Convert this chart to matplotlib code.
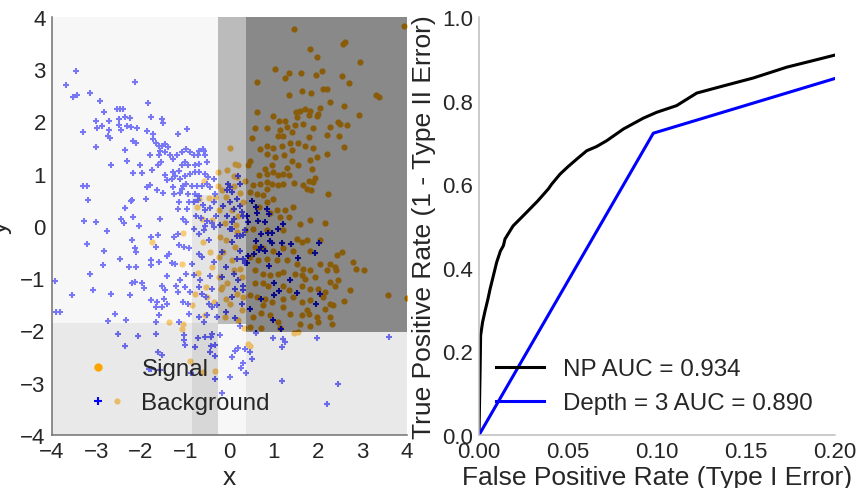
import numpy as np
import matplotlib
matplotlib.use("Agg")
import matplotlib.pyplot as plt
from matplotlib.lines import Line2D

plt.rcParams['font.family'] = ['Liberation Sans', 'DejaVu Sans']
for key in ['text.color', 'axes.labelcolor', 'xtick.color', 'ytick.color']:
    plt.rcParams[key] = '#262626'

# signal sample (x, y)
signal_pts = [
    (1.46, 3.77), (3.93, 3.83), (2.55, 3.49), (2.61, 3.53), (1.81, 3.38), (1.97, 3.24), (2.93, 3.13),
    (1.03, 3.00), (1.33, 2.92), (1.26, 2.84), (1.60, 2.92), (1.94, 2.89), (2.08, 2.97), (2.54, 2.87),
    (0.63, 2.76), (2.70, 2.74), (1.64, 2.59), (1.84, 2.55), (2.10, 2.62), (2.20, 2.62), (1.33, 2.51),
    (3.30, 2.50), (3.36, 2.46), (2.27, 2.37), (2.03, 2.26), (2.58, 2.30), (0.61, 2.19), (0.98, 2.10),
    (1.49, 2.19), (1.59, 2.21), (1.70, 2.23), (1.82, 2.21), (1.51, 2.09), (1.78, 2.12), (1.99, 2.14),
    (1.98, 2.10), (2.92, 2.13), (1.12, 2.01), (1.26, 2.01), (2.45, 1.99),
    (0.57, 1.88), (0.84, 1.88), (1.14, 1.83), (1.29, 1.89), (1.48, 1.93), (1.65, 1.96), (1.89, 1.88),
    (2.26, 1.89), (2.49, 1.96), (2.64, 1.93), (0.50, 1.68), (1.10, 1.73), (1.21, 1.73), (1.40, 1.79),
    (1.78, 1.70), (2.20, 1.75), (2.46, 1.73), (0.69, 1.48), (0.85, 1.54), (0.99, 1.49), (1.18, 1.54),
    (1.36, 1.58), (1.55, 1.59), (1.70, 1.54), (1.87, 1.50), (2.59, 1.52), (0.85, 1.38), (1.02, 1.32),
    (1.23, 1.35), (1.40, 1.45), (1.98, 1.33), (2.19, 1.38), (0.46, 1.24), (0.42, 1.16), (0.80, 1.10),
    (0.95, 1.16), (1.40, 1.24), (1.55, 1.17), (1.81, 1.26), (1.85, 1.10), (1.29, 1.11), (0.67, 0.97),
    (0.84, 1.00), (0.99, 1.03), (1.10, 0.97), (1.21, 1.00), (1.33, 0.97), (1.78, 0.87), (1.93, 0.91),
    (1.87, 0.85), (0.54, 0.78), (0.69, 0.81), (0.84, 0.84), (0.95, 0.81), (1.10, 0.78), (1.21, 0.81),
    (1.45, 0.82), (1.66, 0.78), (1.74, 0.71), (1.83, 0.68), (2.23, 0.62), (0.46, 0.65), (0.61, 0.62),
    (0.76, 0.59), (0.84, 0.71), (0.99, 0.52), (0.84, 0.46), (0.67, 0.36), (1.06, 0.30), (1.25, 0.30),
    (1.44, 0.36), (1.33, 0.17), (1.14, 0.17), (0.91, 0.24), (1.59, 0.03), (1.81, 0.11), (2.15, 0.05),
    (0.00, 1.49), (-0.06, 1.08), (0.12, 1.18), (0.18, 1.16), (-0.25, 1.03), (-0.57, 0.87), (0.09, 0.96),
    (0.16, 0.93), (0.35, 0.87), (-0.25, 0.77), (-0.17, 0.68), (0.09, 0.77), (0.24, 0.64),
    (-0.69, 0.52), (-0.47, 0.54), (-0.32, 0.55), (-0.09, 0.55), (-0.73, 0.36), (-0.62, 0.14),
    (-0.39, 0.11), (-0.24, 0.30), (0.05, 0.30), (0.20, 0.20), (0.30, 0.45), (-0.10, 0.05), (0.15, 0.02),
    (-1.05, -0.13), (-1.75, -0.31), (-1.08, -0.72), (-1.36, -1.84), (-1.05, -1.88), (-0.84, -1.52),
    (-0.77, -1.30), (-0.54, -1.17), (-0.51, -1.36), (-0.39, -0.78), (-0.24, -0.98), (-0.17, -1.17),
    (-0.09, -1.39), (-0.24, -0.59), (-0.21, -0.21), (-0.09, -0.27), (0.05, -0.66), (0.09, -0.85),
    (0.24, -0.82), (0.27, -0.98), (0.16, -1.30), (0.31, -1.36), (0.27, -1.61), (0.12, -0.40),
    (-0.15, -0.50), (-0.05, -1.10), (0.00, -1.50), (-0.20, -1.20), (0.20, -1.80), (-0.10, -1.75),
    (0.33, -1.95), (-0.60, -0.30), (-0.45, -0.50), (-0.70, -0.90), (-0.35, -1.45), (-0.55, -1.70),
    (0.16, -0.12), (0.35, -0.08), (0.54, -0.05), (0.84, -0.07), (1.21, -0.08), (1.51, -0.24),
    (1.63, -0.31), (1.74, -0.27), (2.04, -0.27), (0.57, -0.40), (0.76, -0.43), (0.99, -0.47),
    (1.21, -0.43), (1.44, -0.47), (1.81, -0.47), (2.43, -0.56), (2.53, -0.50), (2.27, -0.72),
    (2.40, -0.84), (2.38, -0.78), (2.78, -0.69), (2.85, -0.82), (3.02, -0.84), (2.19, -0.85),
    (2.04, -0.72), (0.46, -0.59), (0.65, -0.66), (0.84, -0.63), (1.06, -0.66), (1.29, -0.66),
    (1.51, -0.72), (1.66, -0.82), (1.81, -0.85), (0.57, -0.85), (0.76, -0.91), (0.91, -0.94),
    (1.10, -0.91), (1.21, -0.88), (1.48, -0.91), (1.63, -0.94), (1.70, -1.01), (1.93, -0.98),
    (2.27, -1.07), (2.45, -1.04), (2.38, -1.14), (2.72, -1.22), (2.59, -1.44), (3.57, -1.33),
    (3.99, -1.37), (0.57, -1.10), (0.76, -1.10), (0.87, -1.14), (1.21, -1.14), (1.33, -1.23),
    (1.63, -1.14), (1.81, -1.20), (2.00, -1.20), (2.15, -1.26), (0.46, -1.33), (0.61, -1.36),
    (0.80, -1.39), (0.95, -1.45), (1.21, -1.39), (1.44, -1.36), (1.63, -1.45), (1.81, -1.42),
    (2.11, -1.36), (2.27, -1.49), (0.76, -1.52), (1.21, -1.55), (1.74, -1.61), (2.15, -1.58),
    (2.34, -1.52), (0.54, -1.74), (0.72, -1.66), (0.91, -1.71), (1.36, -1.69), (1.63, -1.71),
    (1.78, -1.69), (1.96, -1.75), (2.27, -1.74), (1.10, -1.84), (1.59, -1.87), (1.81, -1.92),
    (2.00, -1.84), (2.30, -1.87), (0.46, -1.93), (0.72, -1.96), (1.14, -1.95),
    (-0.90, -2.58), (-0.60, -2.80), (-0.32, -2.78), (0.42, -2.25), (0.45, -2.29), (1.45, -2.04),
    (1.55, -2.03), (-1.08, -1.98), (-2.54, -3.34),
]

# background sample (x, y)
background_pts = [
    (-3.46, 2.97), (-3.68, 2.69), (-2.14, 2.75), (-3.53, 2.47), (-3.44, 2.51), (-3.14, 2.55),
    (-2.93, 2.39), (-1.84, 2.35), (-2.83, 2.19), (-2.54, 2.23), (-2.47, 2.23), (-2.40, 2.23),
    (-1.78, 2.08), (-1.52, 2.04), (-2.49, 2.04), (-2.35, 2.08), (-2.24, 2.07), (-2.71, 2.01),
    (-3.02, 2.01), (-3.31, 1.79), (-3.02, 1.51), (-2.68, 1.16), (-2.98, 1.87), (-2.87, 1.92),
    (-2.71, 1.83), (-2.75, 1.73), (-2.69, 1.68), (-2.50, 1.94), (-2.44, 1.83), (-2.32, 1.92),
    (-2.23, 1.89), (-2.08, 1.88), (-2.17, 1.63), (-2.11, 1.59), (-2.36, 1.46), (-1.87, 1.82),
    (-1.72, 1.76), (-1.72, 1.67), (-1.49, 1.98), (-1.66, 1.58), (-1.58, 1.54), (-2.32, 1.25),
    (-2.18, 1.02), (-1.98, 1.02), (-2.02, 1.17), (-1.75, 1.08), (-1.79, 1.35), (-1.61, 1.16),
    (-1.54, 1.22), (-1.45, 0.98), (-1.42, 0.88), (-1.27, 1.03), (-1.16, 1.76), (-0.96, 1.86),
    (-3.31, 0.76), (-3.22, 0.76), (-3.19, 0.49), (-1.85, 0.74), (-1.79, 0.79), (-1.88, 0.52),
    (-2.23, 0.48), (-2.20, 0.50), (-1.64, 0.68), (-1.49, 0.64), (-1.27, 0.74), (-1.12, 0.64),
    (-1.04, 0.77), (-1.53, 1.54), (-1.45, 1.57), (-1.38, 1.51), (-1.57, 1.44), (-1.60, 1.35),
    (-1.45, 1.41), (-1.34, 1.35), (-1.27, 1.28), (-1.19, 1.36), (-1.08, 1.41), (-0.97, 1.47),
    (-0.89, 1.41), (-0.81, 1.35), (-0.70, 1.35), (-0.68, 1.44), (-0.59, 1.47), (-0.55, 1.35),
    (-0.51, 1.22), (-0.68, 1.19), (-0.78, 1.16), (-0.93, 1.16), (-1.00, 1.22), (-1.08, 1.16),
    (-1.15, 1.06), (-1.23, 0.96), (-1.30, 0.90), (-1.12, 0.90), (-1.00, 0.96), (-0.89, 1.00),
    (-0.78, 1.03), (-0.68, 1.03), (-0.55, 1.00), (-0.48, 0.93), (-0.36, 0.90), (-0.97, 0.80),
    (-0.85, 0.77), (-0.74, 0.77), (-0.63, 0.77), (-0.51, 0.80), (-0.44, 0.74), (-1.08, 0.71),
    (-0.93, 0.61), (-0.78, 0.61), (-0.68, 0.58), (-0.33, 0.61), (-0.57, 1.44),
    (-3.28, 0.10), (-3.01, 0.08), (-2.35, 0.34), (-2.17, 0.18), (-2.44, 0.13), (-2.38, 0.05),
    (-2.03, 0.00), (-1.57, 0.13), (-1.26, 0.62), (-1.15, 0.46), (-1.16, 0.32), (-0.96, 0.32),
    (-0.92, 0.46), (-1.05, 0.14), (-0.99, 0.08),
    (-2.76, -0.10), (-3.21, -0.34), (-2.84, -0.48), (-2.20, -0.26), (-2.14, -0.43), (-2.11, -0.50),
    (-2.46, -0.64), (-2.85, -0.75), (-3.14, -0.91), (-3.94, -1.05), (-3.08, -1.23), (-3.56, -1.33),
    (-2.66, -1.31), (-2.24, -1.33), (-3.92, -1.65), (-3.83, -1.65), (-2.57, -1.69), (-2.74, -1.82),
    (-2.33, -1.79), (-2.26, -0.78), (-2.11, -0.78), (-1.76, -0.66), (-1.60, -0.68), (-1.76, -0.74),
    (-2.20, -1.10), (-2.12, -1.07), (-1.97, -1.10), (-1.93, -1.18), (-1.76, -0.21), (-1.61, -0.18),
    (-1.66, -0.40), (-1.41, -0.58), (-1.36, -0.54), (-1.30, -0.71), (-1.22, -0.73), (-1.41, -0.96),
    (-1.52, -1.15), (-1.45, -1.22), (-1.78, -1.42), (-1.63, -1.45), (-1.48, -1.39), (-1.66, -1.55),
    (-1.52, -1.55), (-1.41, -1.49), (-1.58, -1.71), (-1.66, -1.84), (-1.26, -0.21), (-1.16, -0.16),
    (-1.13, -0.37), (-1.03, -0.40), (-0.92, -0.43), (-1.11, -1.04), (-0.99, -0.91), (-1.01, -1.17),
    (-1.21, -1.14), (-1.16, -1.26), (-1.05, -1.45), (-0.93, -1.49), (-0.92, -1.69), (-1.15, -1.84),
    (-0.84, -0.72), (-0.81, -0.94), (-0.88, -1.26), (-0.69, -0.53), (-0.62, -0.59), (-0.66, -1.04),
    (-0.69, -1.17), (-0.62, -1.30), (-0.54, -1.36), (-0.47, -1.49), (-0.39, -1.55), (-0.51, -1.71),
    (-0.69, -1.74), (-0.58, -1.84), (-0.69, -0.15), (-0.58, -0.08), (-0.47, -0.27), (-0.36, -0.69),
    (-0.17, -0.50), (-0.09, -0.78), (-0.17, -0.98), (-0.28, -1.52), (-0.09, -1.65), (-0.28, -1.74),
    (-0.80, 0.45), (-0.70, 0.50), (-0.60, 0.40), (-0.55, 0.30), (-0.45, 0.35), (-0.35, 0.45),
    (-0.75, 0.20), (-0.65, 0.15), (-0.50, 0.10), (-0.40, 0.05), (-0.30, 0.20), (-0.80, -0.05),
    (-0.55, 0.00), (-0.35, -0.02), (-0.45, -0.95), (-0.40, -1.20),
    (-0.03, 0.80), (0.01, 0.74), (-0.06, 0.68), (0.05, 0.65), (0.20, 0.96), (0.24, 0.80),
    (0.16, 0.52), (0.01, 0.45), (-0.14, 0.39), (0.09, 0.33), (0.24, 0.39), (0.31, 0.20),
    (0.09, 0.13), (-0.06, 0.20), (-0.21, 0.01), (0.01, -0.06), (0.28, 0.27), (0.05, 0.08),
    (0.50, 0.47), (0.60, 0.36), (0.84, 0.33), (0.90, 0.22), (0.61, 0.24), (0.39, 0.20),
    (0.42, 0.08), (0.65, 0.09), (0.80, 0.08), (1.21, 0.04),
    (0.72, -0.16), (0.87, -0.13), (0.95, -0.13), (1.10, -0.05), (0.60, -0.29), (0.70, -0.40),
    (0.67, -0.45), (0.80, -0.48), (0.91, -0.29), (0.95, -0.33), (1.18, -0.33), (1.38, -0.35),
    (2.02, -0.33), (1.93, -0.52), (1.12, -0.53), (0.55, -0.53), (0.42, -0.58), (0.39, -0.71),
    (1.54, -0.61), (0.90, -0.77), (1.36, -1.04), (1.00, -1.09), (1.11, -1.24), (1.00, -1.33),
    (1.53, -1.29), (2.04, -1.31), (0.71, -1.40), (1.95, -1.49), (0.46, -1.58), (0.99, -1.79),
    (1.15, -1.97),
    (0.05, -0.05), (0.16, -0.20), (0.24, -0.20), (0.31, -0.18), (0.35, -0.08), (0.05, -0.31),
    (0.24, -0.47), (0.31, -0.63), (0.35, -0.71), (0.16, -0.63), (0.09, -0.91), (0.20, -1.04),
    (0.12, -1.20), (0.31, -1.23), (0.27, -1.49), (0.12, -1.77), (0.24, -1.91), (0.05, -1.36),
    (0.31, -1.14),
    (-2.51, -2.06), (-2.36, -2.30), (-2.06, -2.11), (-1.66, -2.06), (-1.61, -2.41), (-1.52, -2.46),
    (-1.82, -2.73), (-1.76, -2.73), (-1.56, -2.76), (-1.03, -2.09), (-1.03, -2.19), (-1.01, -2.27),
    (-0.77, -2.32), (-0.71, -2.14), (-0.56, -2.12), (-0.41, -2.13), (-0.39, -2.06), (-0.21, -2.08),
    (-0.41, -2.30), (-0.32, -2.27), (-0.44, -2.42), (-0.33, -2.48), (-0.86, -2.81), (-0.33, -2.92),
    (-0.17, -3.20), (0.01, -2.89), (0.60, -2.05), (0.97, -2.14), (1.20, -2.17), (1.25, -2.22),
    (1.18, -2.32), (1.96, -2.14), (3.59, -2.12), (0.20, -2.33), (0.12, -2.40), (0.05, -2.51),
    (0.35, -2.35), (0.45, -2.42), (0.50, -2.55), (0.30, -2.62), (0.26, -2.72), (0.37, -2.81),
    (1.18, -2.97), (2.44, -3.02), (2.19, -3.41),
]

# depth-3 tree leaves: box edges and gray level of the shading
leaf_x0 = [-4.0, -0.85, -0.85, -4.0, -0.85, -0.27, -0.27, 0.37, 0.37]
leaf_x1 = [-0.85, -0.27, -0.27, -0.85, -0.27, 0.37, 0.37, 4.0, 4.0]
leaf_y0 = [-1.85, 0.60, -1.85, -4.0, -4.0, -1.88, -4.0, -2.03, -4.0]
leaf_y1 = [4.0, 4.0, 0.60, -1.85, -1.85, 4.0, -1.88, 4.0, -2.03]
leaf_gray = [0.945, 0.945, 0.80, 0.83, 0.69, 0.475, 0.945, 0.08, 0.83]

# ROC curves
fpr_np = [0.0, 0.0003, 0.0006, 0.0009, 0.0020, 0.0034, 0.0050, 0.0062, 0.0080, 0.0099, 0.0120,
          0.0137, 0.0146, 0.0191, 0.0268, 0.0330, 0.0390, 0.0408, 0.0455, 0.0500, 0.0549, 0.0605,
          0.0660, 0.0717, 0.0811, 0.0923, 0.0998, 0.1110, 0.1223, 0.1380, 0.1540, 0.1729, 0.1870,
          0.2000]
tpr_np = [0.0, 0.080, 0.151, 0.238, 0.270, 0.297, 0.325, 0.349, 0.380, 0.413, 0.440,
          0.453, 0.469, 0.500, 0.533, 0.560, 0.589, 0.600, 0.624, 0.642, 0.660, 0.680,
          0.690, 0.704, 0.732, 0.758, 0.772, 0.788, 0.818, 0.836, 0.854, 0.880, 0.895,
          0.909]
fpr_tree = [0.0, 0.0979, 0.2000]
tpr_tree = [0.0, 0.722, 0.853]
auc_np = 0.934
auc_tree = 0.890
depth = 3

signal = np.array(signal_pts)
background = np.array(background_pts)

fig = plt.figure(figsize=(8.6, 4.89), dpi=100)
ax1 = fig.add_axes([0.0605, 0.1084, 0.4128, 0.8548])
ax2 = fig.add_axes([0.557, 0.1084, 0.414, 0.8548])

# left: data under the tree's shading
ax1.scatter(signal[:, 0], signal[:, 1], s=20, c='orange', linewidths=0, zorder=1)
ax1.scatter(background[:, 0], background[:, 1], s=16, c='blue', marker='+',
            linewidths=1.5, zorder=1)
widths = np.array(leaf_x1) - np.array(leaf_x0)
heights = np.array(leaf_y1) - np.array(leaf_y0)
ax1.bar(leaf_x0, heights, widths, bottom=leaf_y0, align='edge',
        color=[str(g) for g in leaf_gray], alpha=0.5, linewidth=0, zorder=2)
ax1.set_xlim(-4, 4)
ax1.set_ylim(-4, 4)
ax1.set_xticks(range(-4, 5))
ax1.set_yticks(range(-4, 5))
ax1.set_xlabel('x', fontsize=19, labelpad=2)
ax1.set_ylabel('y', fontsize=19)
ax1.yaxis.set_label_coords(-0.112, 0.5)
handles = [Line2D([], [], ls='none', marker='o', color='orange', ms=6, mew=0),
           Line2D([], [], ls='none', marker='+', color='blue', ms=6, mew=1.5)]
ax1.legend(handles, ['Signal', 'Background'], loc='lower left', frameon=False,
           fontsize=17.4, bbox_to_anchor=(0.0, -0.003))

# right: ROC
ax2.plot(fpr_np, tpr_np, color='black', lw=2.2, label='NP AUC = %.3f' % auc_np)
ax2.plot(fpr_tree, tpr_tree, color='blue', lw=2.2,
         label='Depth = %d AUC = %.3f' % (depth, auc_tree))
ax2.set_xlim(0, 0.2)
ax2.set_ylim(0, 1)
ax2.set_xticks([0, 0.05, 0.10, 0.15, 0.20])
ax2.set_xticklabels(['%.2f' % v for v in [0, 0.05, 0.10, 0.15, 0.20]])
ax2.set_yticks([0, 0.2, 0.4, 0.6, 0.8, 1.0])
ax2.set_yticklabels(['%.1f' % v for v in [0, 0.2, 0.4, 0.6, 0.8, 1.0]])
ax2.set_xlabel('False Positive Rate (Type I Error)', fontsize=19, labelpad=2)
ax2.set_ylabel('True Positive Rate (1 - Type II Error)', fontsize=19)
ax2.legend(loc='lower left', frameon=False, fontsize=17.4, bbox_to_anchor=(-0.014, -0.002))

for ax, edge in [(ax1, '#707070'), (ax2, '#bdbdbd')]:
    for side in ['top', 'right']:
        ax.spines[side].set_visible(False)
    for side in ['left', 'bottom']:
        ax.spines[side].set_color(edge)
        ax.spines[side].set_linewidth(1.1)
    ax.tick_params(length=0, pad=4.5, labelsize=16)

fig.savefig('out.png', dpi=100)
